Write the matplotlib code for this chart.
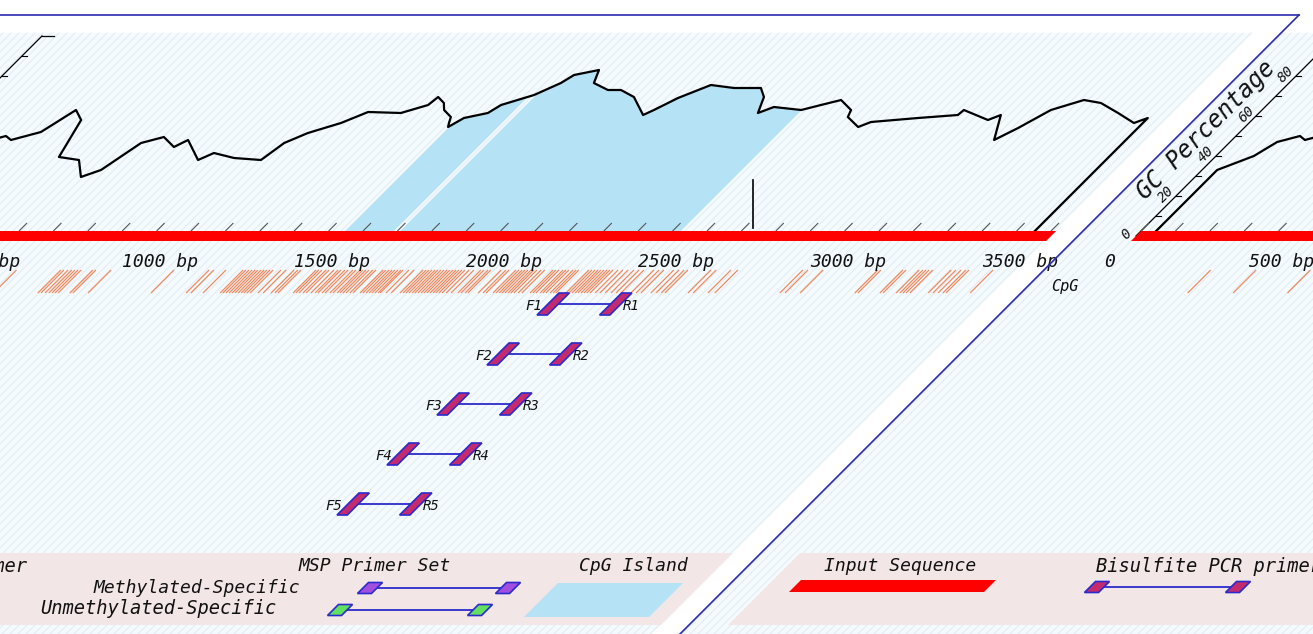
import numpy as np
import matplotlib
matplotlib.use('Agg')
import matplotlib.pyplot as plt
from matplotlib.transforms import Affine2D
from matplotlib.patches import Polygon

# sequence data (positions in bp, GC in %)
seq_len = 3515
gc_pos = [44, 44, 110, 137, 186, 212, 276, 314, 358, 401, 468, 523, 561, 599, 648,
          706, 727, 814, 840, 913, 997, 1015, 1055, 1122, 1169, 1267, 1323, 1329,
          1363, 1384, 1424, 1436, 1445, 1465, 1520, 1535, 1602, 1645, 1660, 1718,
          1741, 1802, 1840, 1898, 1977, 1994, 2029, 2087, 2163, 2241, 2276, 2305,
          2334, 2422, 2465, 2509, 2567, 2578, 2637, 2660, 2785, 2892, 2895, 2994,
          3017, 3070, 3105, 3148, 3215, 3273, 3352, 3427, 3453, 3453]
gc_val = [0, 33, 40, 47, 50, 48, 52, 63, 58, 39.5, 38, 29.5, 33, 46.5, 49.5,
          44.5, 48, 38, 41.5, 39, 38, 46.5, 51.5, 56.5, 62, 61.5, 65.5, 69.5,
          66.5, 63, 59.5, 56.5, 54.5, 59, 61.5, 65.5, 70.5, 76.5, 80.5, 83,
          76.5, 73, 73, 69.5, 60.5, 63, 69, 75.5, 74, 74, 69.5, 61.5,
          64.5, 63, 65.5, 68, 63, 59.5, 54.5, 57, 59, 60.5, 63, 58,
          60.5, 48, 54, 63, 68, 66.5, 61.5, 56.5, 59, 0]
cpg_sites = [316, 448, 606, 735, 744, 756, 767, 776, 785, 794, 828, 837, 881, 1064,
             1166, 1180, 1215, 1265, 1273, 1282, 1291, 1300, 1308, 1317, 1326, 1334,
             1343, 1352, 1375, 1390, 1413, 1424, 1433, 1477, 1485, 1494, 1506, 1515,
             1529, 1541, 1549, 1561, 1570, 1584, 1593, 1605, 1613, 1622, 1631, 1642,
             1651, 1672, 1680, 1689, 1698, 1706, 1715, 1724, 1730, 1747, 1762, 1788,
             1797, 1805, 1814, 1823, 1831, 1840, 1849, 1858, 1866, 1875, 1884, 1892,
             1901, 1910, 1922, 1936, 1956, 1965, 1977, 1985, 2015, 2029, 2038, 2058,
             2067, 2076, 2084, 2093, 2102, 2110, 2119, 2131, 2142, 2166, 2174, 2183,
             2195, 2203, 2212, 2224, 2233, 2241, 2270, 2279, 2288, 2297, 2305, 2314,
             2323, 2331, 2340, 2355, 2369, 2384, 2401, 2416, 2430, 2459, 2474, 2488,
             2517, 2532, 2547, 2558, 2625, 2640, 2683, 2703, 2892, 2907, 2951, 3110,
             3119, 3183, 3192, 3230, 3241, 3250, 3259, 3270, 3323, 3337, 3352, 3366,
             3375, 3445]
islands = [(1448, 1590), (1608, 2424)]
primer_ids = ['1', '2', '3', '4', '5']
primer_f = (2250, 2280)
primer_r = (2432, 2462)
bp_ticks = list(range(0, seq_len, 100))
bp_labels = [0, 500, 1000, 1500, 2000, 2500, 3000, 3500]
gc_labels = [0, 20, 40, 60, 80]

# layout of the panel (pixels)
W, H = 1313, 634
U0 = -158        # x of 0 bp at the bar line
PERIOD = 1294    # panel repeats to the right
PX = 0.344       # px per bp
YBAR = 236       # y of the sequence bar / 0 %
EDGE = 1078      # right border of the panel
BG = '#f4fafd'
BORDER = '#2a2ab4'
PRIMER_EDGE = '#2b2bcc'
TXT = dict(style='italic', color='#111111', family='DejaVu Sans Mono')

fig = plt.figure(figsize=(W / 100, H / 100), dpi=100)
ax = fig.add_axes([0, 0, 1, 1])
ax.set_xlim(0, W)
ax.set_ylim(H, 0)
ax.axis('off')

# everything is drawn slanted: x shifts right by 1 px for each px up
sk = Affine2D.from_values(1, 0, -1, 1, YBAR, 0) + ax.transData


def px(bp, off):
    return U0 + off + np.asarray(bp, dtype=float) * PX


def gy(gc):
    return YBAR - 2.0 * np.asarray(gc, dtype=float)


def quad(u0, u1, y0, y1, z=1, **kw):
    ax.add_patch(Polygon([(u0, y0), (u1, y0), (u1, y1), (u0, y1)], closed=True,
                         transform=sk, zorder=z, **kw))


def box(uc, yc, w, h, fc, z=4):
    quad(uc - w / 2, uc + w / 2, yc - h / 2, yc + h / 2, z=z, fc=fc,
         ec=PRIMER_EDGE, lw=1.2)


def label(u, y, s, size, ha='center', rot=0):
    ax.text(u, y, s, transform=sk, fontsize=size, ha=ha, va='center',
            rotation=rot, zorder=4, **TXT)


# backgrounds
quad(-800, 1050, 33, H, z=0, fc=BG, ec='none')
quad(EDGE, 2600, 33, H, z=0, fc=BG, ec='none')
for u in range(-800, 2600, 8):
    ax.plot([u, u], [33, H], transform=sk, color='#e1edf3', lw=0.7, zorder=0.5)
quad(1050, EDGE, 0, H, z=0.8, fc='white', ec='none')


def panel(off):
    # legend band
    quad(U0 + off - 19, U0 + off + 1208, 553, 625, z=0.9, fc='#f2e6e6', ec='none')

    # CpG islands under the GC curve
    gp = np.asarray(gc_pos, dtype=float)
    for s, e in islands:
        xs = np.concatenate([[s], gp[(gp > s) & (gp < e)], [e]])
        ys = np.interp(xs, gc_pos, gc_val)
        pts = list(zip(px(xs, off), gy(ys))) + [(px(e, off), YBAR), (px(s, off), YBAR)]
        ax.add_patch(Polygon(pts, closed=True, transform=sk, fc='#b6e2f5',
                             ec='none', zorder=1))

    # GC curve
    ax.plot(px(gc_pos, off), gy(gc_val), transform=sk, color='black', lw=1.6,
            zorder=2)

    # GC axis
    ua = px(0, off)
    ax.plot([ua, ua], [gy(0), gy(100)], transform=sk, color='black', lw=0.9, zorder=2)
    ax.plot([ua, ua + 12], [gy(100), gy(100)], transform=sk, color='black', lw=0.9,
            zorder=2)
    for g in range(0, 100, 10):
        ax.plot([ua, ua + 5], [gy(g), gy(g)], transform=sk, color='black', lw=0.8,
                zorder=2)
    for g in gc_labels:
        label(ua - 12, gy(g) - 2, str(g), 10, rot=45)
    label(ua - 36, gy(53), 'GC Percentage', 17, rot=45)

    # sequence bar with 100 bp ticks
    quad(px(0, off), px(seq_len, off), YBAR - 5, YBAR + 5, z=3, fc='#ff0000',
         ec='none')
    tu = px(bp_ticks, off)
    ax.vlines(tu, 223, YBAR - 5, transform=sk, color='#555555', lw=0.8, zorder=3)
    for b in bp_labels:
        lab = '0' if b == 0 else f'{b} bp'
        label(px(b, off), 262, lab, 13)

    # CpG sites
    label(ua - 20, 287, 'CpG', 11)
    ax.vlines(px(cpg_sites, off), 270, 293, transform=sk, color='#f0703a',
              lw=0.9, alpha=0.8, zorder=2)

    # primer pairs
    f0, f1 = px(primer_f, off)
    r0, r1 = px(primer_r, off)
    for i, pid in enumerate(primer_ids):
        yc = 304 + 50 * i
        ax.plot([f1, r0], [yc, yc], transform=sk, color=PRIMER_EDGE, lw=1.3,
                zorder=3)
        box((f0 + f1) / 2, yc, f1 - f0, 22, '#c42a6e')
        box((r0 + r1) / 2, yc, r1 - r0, 22, '#c42a6e')
        label(f0 - 12, yc + 2, 'F' + pid, 10)
        label(r1 + 12, yc + 2, 'R' + pid, 10)

    # legend
    o = U0 + off
    label(o + 94, 566, 'Input Sequence', 13)
    quad(o + 9, o + 204, 580, 592, z=3, fc='#ff0000', ec='none')

    label(o + 290, 566, 'Bisulfite PCR primer', 13.5, ha='left')
    ax.plot([o + 312, o + 453], [587, 587], transform=sk, color=PRIMER_EDGE,
            lw=1.3, zorder=3)
    box(o + 312, 587, 14, 11, '#c42a6e')
    box(o + 453, 587, 14, 11, '#c42a6e')

    label(o + 863, 566, 'MSP Primer Set', 13)
    label(o + 810, 588, 'Methylated-Specific', 13, ha='right')
    label(o + 807, 608, 'Unmethylated-Specific', 13.5, ha='right')
    ax.plot([o + 880, o + 1018], [588, 588], transform=sk, color=PRIMER_EDGE,
            lw=1.3, zorder=3)
    box(o + 880, 588, 14, 11, '#a24fe0')
    box(o + 1018, 588, 14, 11, '#a24fe0')
    ax.plot([o + 872, o + 1012], [610, 610], transform=sk, color=PRIMER_EDGE,
            lw=1.3, zorder=3)
    box(o + 872, 610, 14, 11, '#62e062')
    box(o + 1012, 610, 14, 11, '#62e062')

    label(o + 1121, 566, 'CpG Island', 13)
    quad(o + 1063, o + 1188, 583, 617, z=3, fc='#b6e2f5', ec='none')


for off in (0, PERIOD):
    panel(off)

# cursor mark
ax.plot([753, 753], [180, 228], color='black', lw=1.2, zorder=5)

# page border
ax.add_patch(plt.Rectangle((0, 0), W, 15, fc='white', ec='none', zorder=0.9))
ax.plot([0, EDGE - 15 + YBAR], [15, 15], color=BORDER, lw=1.2, zorder=6)
ax.plot([EDGE, EDGE], [15, H], transform=sk, color=BORDER, lw=1.2, zorder=6)

fig.savefig('out.png', dpi=100, facecolor='white')
